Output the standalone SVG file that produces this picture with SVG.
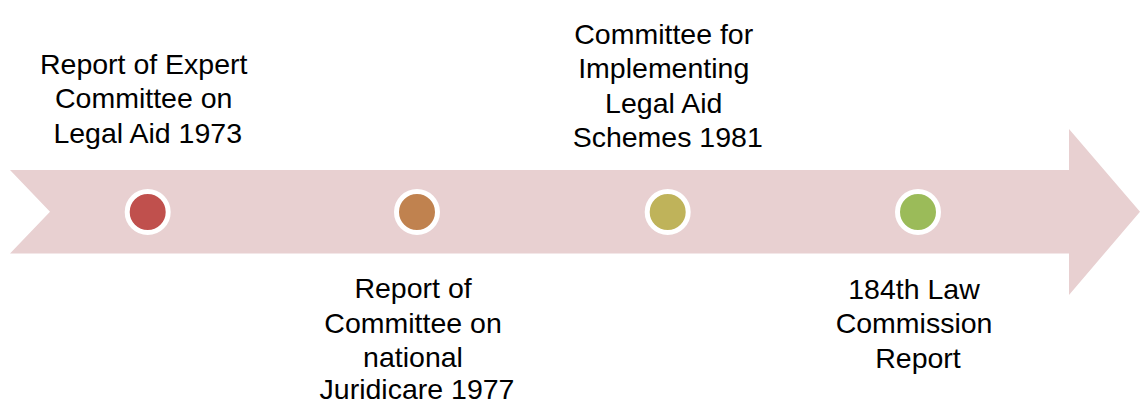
<svg xmlns="http://www.w3.org/2000/svg" width="1140" height="405" viewBox="0 0 1140 405">
  <style>
    .band { fill: #e8d0d1; }
    .dot { stroke: #ffffff; stroke-width: 5; }
    .label { font-family: "Liberation Sans", Arial, sans-serif; font-size: 28.5px; fill: #000000; text-anchor: middle; }
  </style>
  <rect width="1140" height="405" fill="#ffffff"/>

  <!-- timeline band: notched tail, straight shaft, arrow head -->
  <g id="timeline">
    <path class="band" d="M10,170 L1069,170 L1069,129 L1140,211.7 L1069,295 L1069,253.5 L10,253.5 L50,211.7 Z"/>
  </g>

  <g id="event-1973">
    <circle class="dot" cx="147.7" cy="212" r="20.5" fill="#c0504d"/>
    <text class="label" x="147.7">
      <tspan x="147.7" y="73.5">Report of Expert</tspan>
      <tspan x="147.7" y="108">Committee on</tspan>
      <tspan x="147.7" y="142.5">Legal Aid 1973</tspan>
    </text>
  </g>

  <g id="event-1977">
    <circle class="dot" cx="417" cy="212" r="20.5" fill="#c0824f"/>
    <text class="label" x="417">
      <tspan x="417" y="298">Report of</tspan>
      <tspan x="417" y="332.5">Committee on</tspan>
      <tspan x="417" y="366.5">national</tspan>
      <tspan x="417" y="398.5">Juridicare 1977</tspan>
    </text>
  </g>

  <g id="event-1981">
    <circle class="dot" cx="667.7" cy="212" r="20.5" fill="#bfb35a"/>
    <text class="label" x="667.7">
      <tspan x="667.7" y="43.5">Committee for</tspan>
      <tspan x="667.7" y="78">Implementing</tspan>
      <tspan x="667.7" y="112.5">Legal Aid</tspan>
      <tspan x="667.7" y="147">Schemes 1981</tspan>
    </text>
  </g>

  <g id="event-184th-report">
    <circle class="dot" cx="918" cy="212" r="20.5" fill="#9bbb59"/>
    <text class="label" x="918">
      <tspan x="918" y="298.5">184th Law</tspan>
      <tspan x="918" y="333">Commission</tspan>
      <tspan x="918" y="367.5">Report</tspan>
    </text>
  </g>

  <g id="connectors"></g>
</svg>
